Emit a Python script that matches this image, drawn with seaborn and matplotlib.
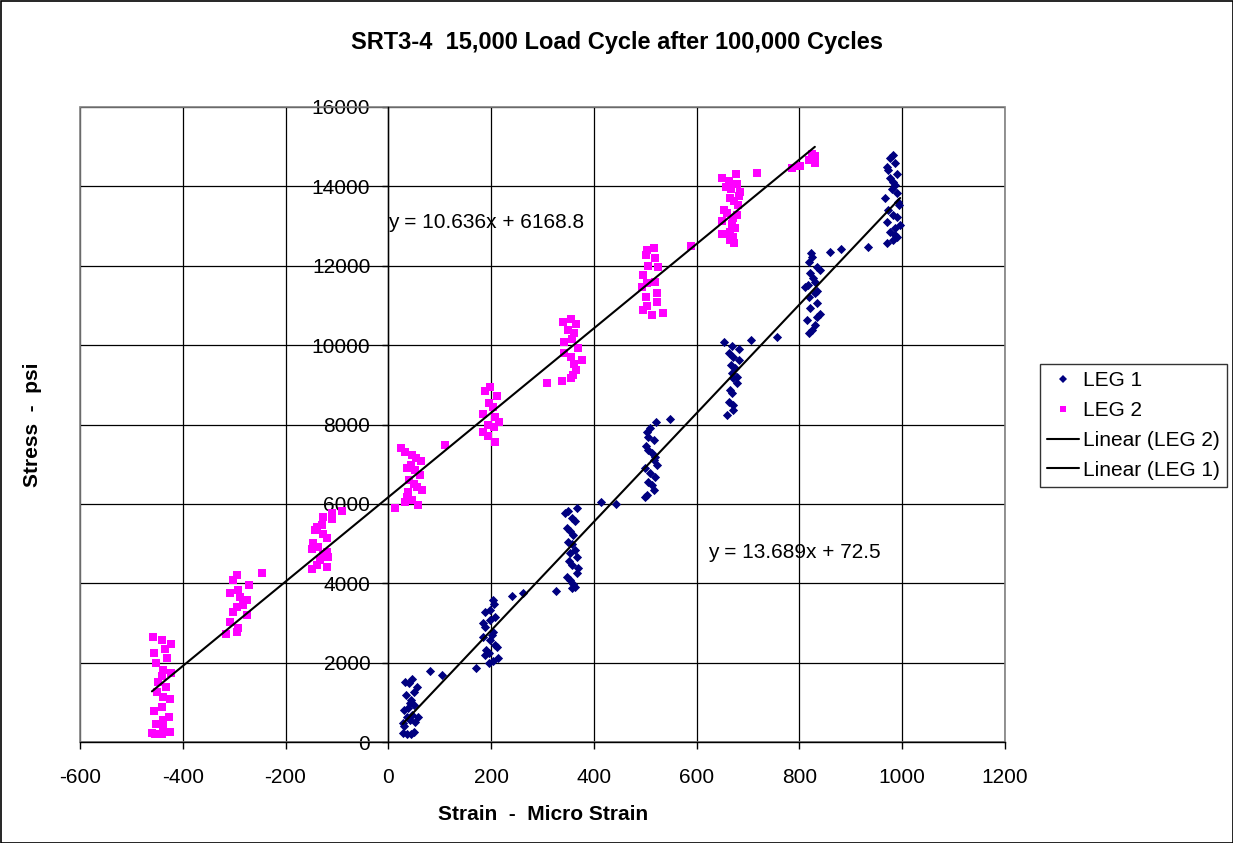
import numpy as np
import pandas as pd
import matplotlib
matplotlib.use("Agg")
import matplotlib.pyplot as plt
from matplotlib.lines import Line2D
from matplotlib.patches import Rectangle
import seaborn as sns

OUTPUT_PATH = "out.png"

TITLE = "SRT3-4  15,000 Load Cycle after 100,000 Cycles"
X_LABEL = "Strain  -  Micro Strain"
Y_LABEL = "Stress  -  psi"

# LEG 1 (navy diamonds)
leg1_x = [32, 47, 41, 34, 49, 56, 45, 42, 30, 39, 49, 36, 47, 58, 29, 42, 52, 28, 36, 44, 50, 30,
          82, 104, 170,
          203, 206, 188, 198, 208, 198, 185, 188, 204, 201, 184, 198, 208, 211, 191, 188, 195, 214, 204, 195,
          241, 263, 326,
          344, 350, 367, 357, 363, 347, 354, 360, 350, 357, 363, 354, 367, 352, 357, 370, 367, 347, 354, 360, 363, 357,
          413, 443,
          521, 509, 503, 506, 516, 502, 506, 513, 519, 516, 522, 500, 509, 519, 506, 513, 516, 503, 500,
          548,
          653, 669, 683, 662, 671, 683, 666, 675, 668, 678, 671, 679, 664, 668, 662, 670, 671, 659,
          705, 757,
          822, 824, 819, 834, 840, 821, 827, 830, 811, 817, 835, 830, 819, 834, 821, 840, 834, 814, 830, 824, 819,
          860, 881, 934,
          982, 976, 986, 970, 973, 989, 976, 983, 986, 980, 989, 967, 992, 994, 973, 983, 970, 989, 996, 986, 976,
          986, 989, 983, 970]
leg1_y = [1520, 1579, 1478, 1184, 1268, 1378, 1058, 974, 806, 848, 932, 638, 680, 622, 470, 554, 512, 218, 202,
          193, 260, 403,
          1797, 1688, 1865,
          3578, 3478, 3284, 3326, 3158, 3074, 2990, 2906, 2780, 2696, 2638, 2570, 2444, 2402, 2318, 2192, 2251,
          2108, 2050, 1982,
          3679, 3746, 3814,
          5762, 5830, 5888, 5636, 5578, 5384, 5326, 5216, 5048, 4990, 4838, 4754, 4653, 4570, 4460, 4376, 4250,
          4166, 4082, 3982, 3898, 3872,
          6056, 5989,
          8072, 7904, 7820, 7694, 7610, 7459, 7358, 7274, 7174, 7106, 6980, 6896, 6770, 6686, 6560, 6476, 6350,
          6224, 6166,
          8131,
          10088, 9979, 9904, 9795, 9710, 9626, 9500, 9417, 9291, 9206, 9165, 9039, 8870, 8786, 8576, 8492, 8366,
          8240,
          10130, 10214,
          12314, 12214, 12104, 11978, 11894, 11810, 11684, 11600, 11474, 11516, 11374, 11306, 11222, 11054, 10929,
          10786, 10718, 10634, 10508, 10382, 10298,
          12356, 12415, 12482,
          14792, 14708, 14583, 14498, 14414, 14314, 14205, 14120, 14036, 13927, 13826, 13700, 13616, 13532, 13406,
          13280, 13112, 13222, 13028, 12944, 12860, 12776, 12718, 12650, 12566]

# LEG 2 (magenta squares)
leg2_x = [-457, -441, -422, -456, -435, -431, -452, -438, -422, -441, -448, -433, -451, -425, -438, -441, -456,
          -426, -439, -452, -460, -438, -425, -441, -454,
          -295, -302, -246, -272, -308, -292, -289, -276, -295, -282, -302, -276, -308, -292, -315, -295,
          -127, -110, -91, -139, -130, -143, -110, -128, -119, -147, -136, -149, -120, -127, -117, -133, -139,
          -120, -149,
          24, 33, 46, 54, 63, 44, 36, 52, 62, 41, 49, 39, 36, 55, 65, 46, 58, 13, 33,
          110,
          197, 188, 212, 195, 204, 184, 208, 216, 193, 206, 185, 193, 208,
          339, 355, 365, 350, 361, 342, 357, 370, 341, 355, 376, 361, 365, 359, 355, 337, 309,
          503, 517, 502, 519, 525, 506, 496, 504, 519, 493, 523, 502, 522, 504, 495, 513, 534,
          588,
          650, 676, 663, 657, 678, 666, 684, 683, 664, 673, 681, 653, 659, 678, 671, 650, 668, 675, 664, 650, 671,
          664, 673, 718,
          785, 801, 824, 830, 819, 830]
leg2_y = [2638, 2570, 2470, 2251, 2335, 2108, 1982, 1814, 1730, 1663, 1520, 1394, 1268, 1075, 1142, 890, 790,
          638, 554, 454, 218, 344, 260, 202, 202,
          4208, 4082, 4267, 3956, 3763, 3830, 3662, 3578, 3410, 3452, 3284, 3200, 3032, 2864, 2722, 2780,
          5678, 5762, 5821, 5426, 5468, 5342, 5611, 5242, 5132, 5006, 4922, 4855, 4796, 4738, 4653, 4586, 4460,
          4418, 4351,
          7401, 7316, 7232, 7149, 7089, 6980, 6896, 6854, 6728, 6602, 6502, 6292, 6182, 6434, 6350, 6098, 5972,
          5905, 6056,
          7484,
          8954, 8853, 8719, 8534, 8450, 8266, 8198, 8072, 7988, 7930, 7820, 7711, 7568,
          10592, 10651, 10534, 10382, 10298, 10088, 10147, 9920, 9795, 9710, 9626, 9526, 9374, 9248, 9165, 9106,
          9039,
          12398, 12440, 12272, 12188, 11978, 11995, 11768, 11558, 11600, 11474, 11306, 11222, 11096, 10987,
          10886, 10760, 10819,
          12499,
          14221, 14305, 14146, 13995, 14053, 13927, 13868, 13759, 13700, 13633, 13532, 13406, 13339, 13280,
          13196, 13129, 13045, 12961, 12860, 12810, 12734, 12650, 12566, 14347,
          14456, 14515, 14818, 14767, 14666, 14583]

# trendlines as printed on the chart
fit1_slope, fit1_icept = 13.689, 72.5
fit2_slope, fit2_icept = 10.636, 6168.8
eq1_text = "y = 13.689x + 72.5"
eq2_text = "y = 10.636x + 6168.8"

x_ticks = list(range(-600, 1201, 200))
y_ticks = list(range(0, 16001, 2000))

NAVY = "#000080"
MAGENTA = "#FF00FF"


def main():
    sns.set_style("white")
    plt.rcParams["font.family"] = ["Liberation Sans", "DejaVu Sans"]
    plt.rcParams["axes.unicode_minus"] = False
    plt.rcParams["text.color"] = "black"

    df1 = pd.DataFrame({"x": leg1_x, "y": leg1_y})
    df2 = pd.DataFrame({"x": leg2_x, "y": leg2_y})

    fig = plt.figure(figsize=(12.33, 8.43), dpi=100)
    ax = fig.add_axes([80 / 1233, 1 - 742 / 843, 925 / 1233, 635 / 843])

    sns.scatterplot(data=df1, x="x", y="y", ax=ax, marker="D", color=NAVY,
                    s=22, linewidth=0, zorder=3)
    sns.scatterplot(data=df2, x="x", y="y", ax=ax, marker="s", color=MAGENTA,
                    s=26, linewidth=0, zorder=3)

    x2 = np.array([min(leg2_x), max(leg2_x)])
    x1 = np.array([min(leg1_x), max(leg1_x)])
    ax.plot(x2, fit2_slope * x2 + fit2_icept, color="black", lw=1.5, zorder=4)
    ax.plot(x1, fit1_slope * x1 + fit1_icept, color="black", lw=1.5, zorder=4)

    ax.text(0, 13079, eq2_text, fontsize=15, va="center", ha="left", color="black", zorder=5)
    ax.text(622, 4763, eq1_text, fontsize=15, va="center", ha="left", color="black", zorder=5)

    ax.set_xlim(-600, 1200)
    ax.set_ylim(0, 16000)
    ax.set_xticks(x_ticks)
    ax.set_yticks(y_ticks)
    ax.grid(True, color="black", lw=0.9)
    ax.set_axisbelow(True)

    ax.spines["left"].set_position(("data", 0))
    for side in ["top", "right"]:
        ax.spines[side].set_visible(False)
    for side in ["left", "bottom"]:
        ax.spines[side].set_color("black")
        ax.spines[side].set_linewidth(1)
    ax.add_patch(Rectangle((0, 0), 1, 1, transform=ax.transAxes, fill=False,
                           ec="#808080", lw=1.2, clip_on=False, zorder=1))

    ax.tick_params(axis="y", direction="out", length=4.5, width=1, pad=8.5,
                   labelsize=15, left=True, colors="black")
    ax.tick_params(axis="x", direction="out", length=5, width=1, pad=13.5,
                   labelsize=15, bottom=True, colors="black")
    ax.set_xlabel("")
    ax.set_ylabel("")

    fig.text(0.5005, 1 - 42 / 843, TITLE, ha="center", va="center",
             fontsize=17, fontweight="bold", color="black")
    fig.text(543 / 1233, 1 - 815 / 843, X_LABEL, ha="center", va="center",
             fontsize=15, fontweight="bold", color="black")
    fig.text(33 / 1233, 1 - 425 / 843, Y_LABEL, ha="center", va="center",
             fontsize=15, fontweight="bold", rotation=90, color="black")

    handles = [
        Line2D([], [], ls="none", marker="D", color=NAVY, markersize=4.5, mew=0),
        Line2D([], [], ls="none", marker="s", color=MAGENTA, markersize=5, mew=0),
        Line2D([], [], color="black", lw=1.5),
        Line2D([], [], color="black", lw=1.5),
    ]
    labels = ["LEG 1", "LEG 2", "Linear (LEG 2)", "Linear (LEG 1)"]
    leg = fig.legend(handles, labels, loc="upper left",
                     bbox_to_anchor=(1040 / 1233, 1 - 364 / 843),
                     bbox_transform=fig.transFigure, fontsize=15,
                     frameon=True, fancybox=False, shadow=False,
                     borderpad=0.35, labelspacing=0.52, handlelength=1.5,
                     handletextpad=0.2, borderaxespad=0)
    leg.get_frame().set_edgecolor("black")
    leg.get_frame().set_linewidth(1)
    for t in leg.get_texts():
        t.set_color("black")

    fig.add_artist(Rectangle((0.5 / 1233, 0.5 / 843), 1 - 1 / 1233, 1 - 1 / 843,
                             transform=fig.transFigure, fill=False, ec="black", lw=1.2))

    fig.savefig(OUTPUT_PATH, dpi=100)
    plt.close(fig)


if __name__ == "__main__":
    main()
